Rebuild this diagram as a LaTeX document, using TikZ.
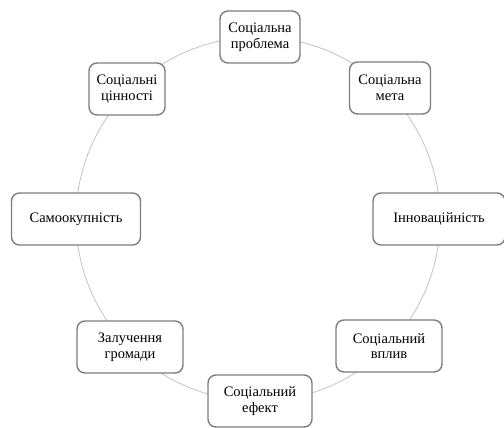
\documentclass[tikz,border=0pt]{standalone}
\usepackage{fontspec}
\setmainfont{Liberation Serif}
\newfontfamily\boxfont{Liberation Serif}
\usepackage{xcolor}
\definecolor{ringgray}{RGB}{195,195,195}
\definecolor{boxgray}{RGB}{125,125,125}
\begin{document}
\begin{tikzpicture}[x=1pt,y=1pt,
	stagebox/.style={draw=boxgray,line width=1.4pt,fill=white,rounded corners=8pt,
		minimum height=52pt,align=center,inner sep=2pt,
		font=\boxfont\fontsize{14.5}{15.5}\selectfont}]
	\useasboundingbox (0,0) rectangle (504,428);
	\coordinate (centre) at (258,209);
	\draw[ringgray,line width=0.8pt] (centre) circle (182);
	\node[stagebox,minimum width=80pt] (problem) at (260,391) {Соціальна\\проблема};
	\node[stagebox,minimum width=81pt] (goal) at (390,340) {Соціальна\\мета};
	\node[stagebox,minimum width=132pt] (innov) at (439,209) {Інноваційність};
	\node[stagebox,minimum width=106pt] (impact) at (389,82) {Соціальний\\вплив};
	\node[stagebox,minimum width=104pt] (effect) at (260,27) {Соціальний\\ефект};
	\node[stagebox,minimum width=106pt] (community) at (130,81) {Залучення\\громади};
	\node[stagebox,minimum width=129pt] (payback) at (76,209) {Самоокупність};
	\node[stagebox,minimum width=76pt] (values) at (127,339) {Соціальні\\цінності};
\end{tikzpicture}
\end{document}
